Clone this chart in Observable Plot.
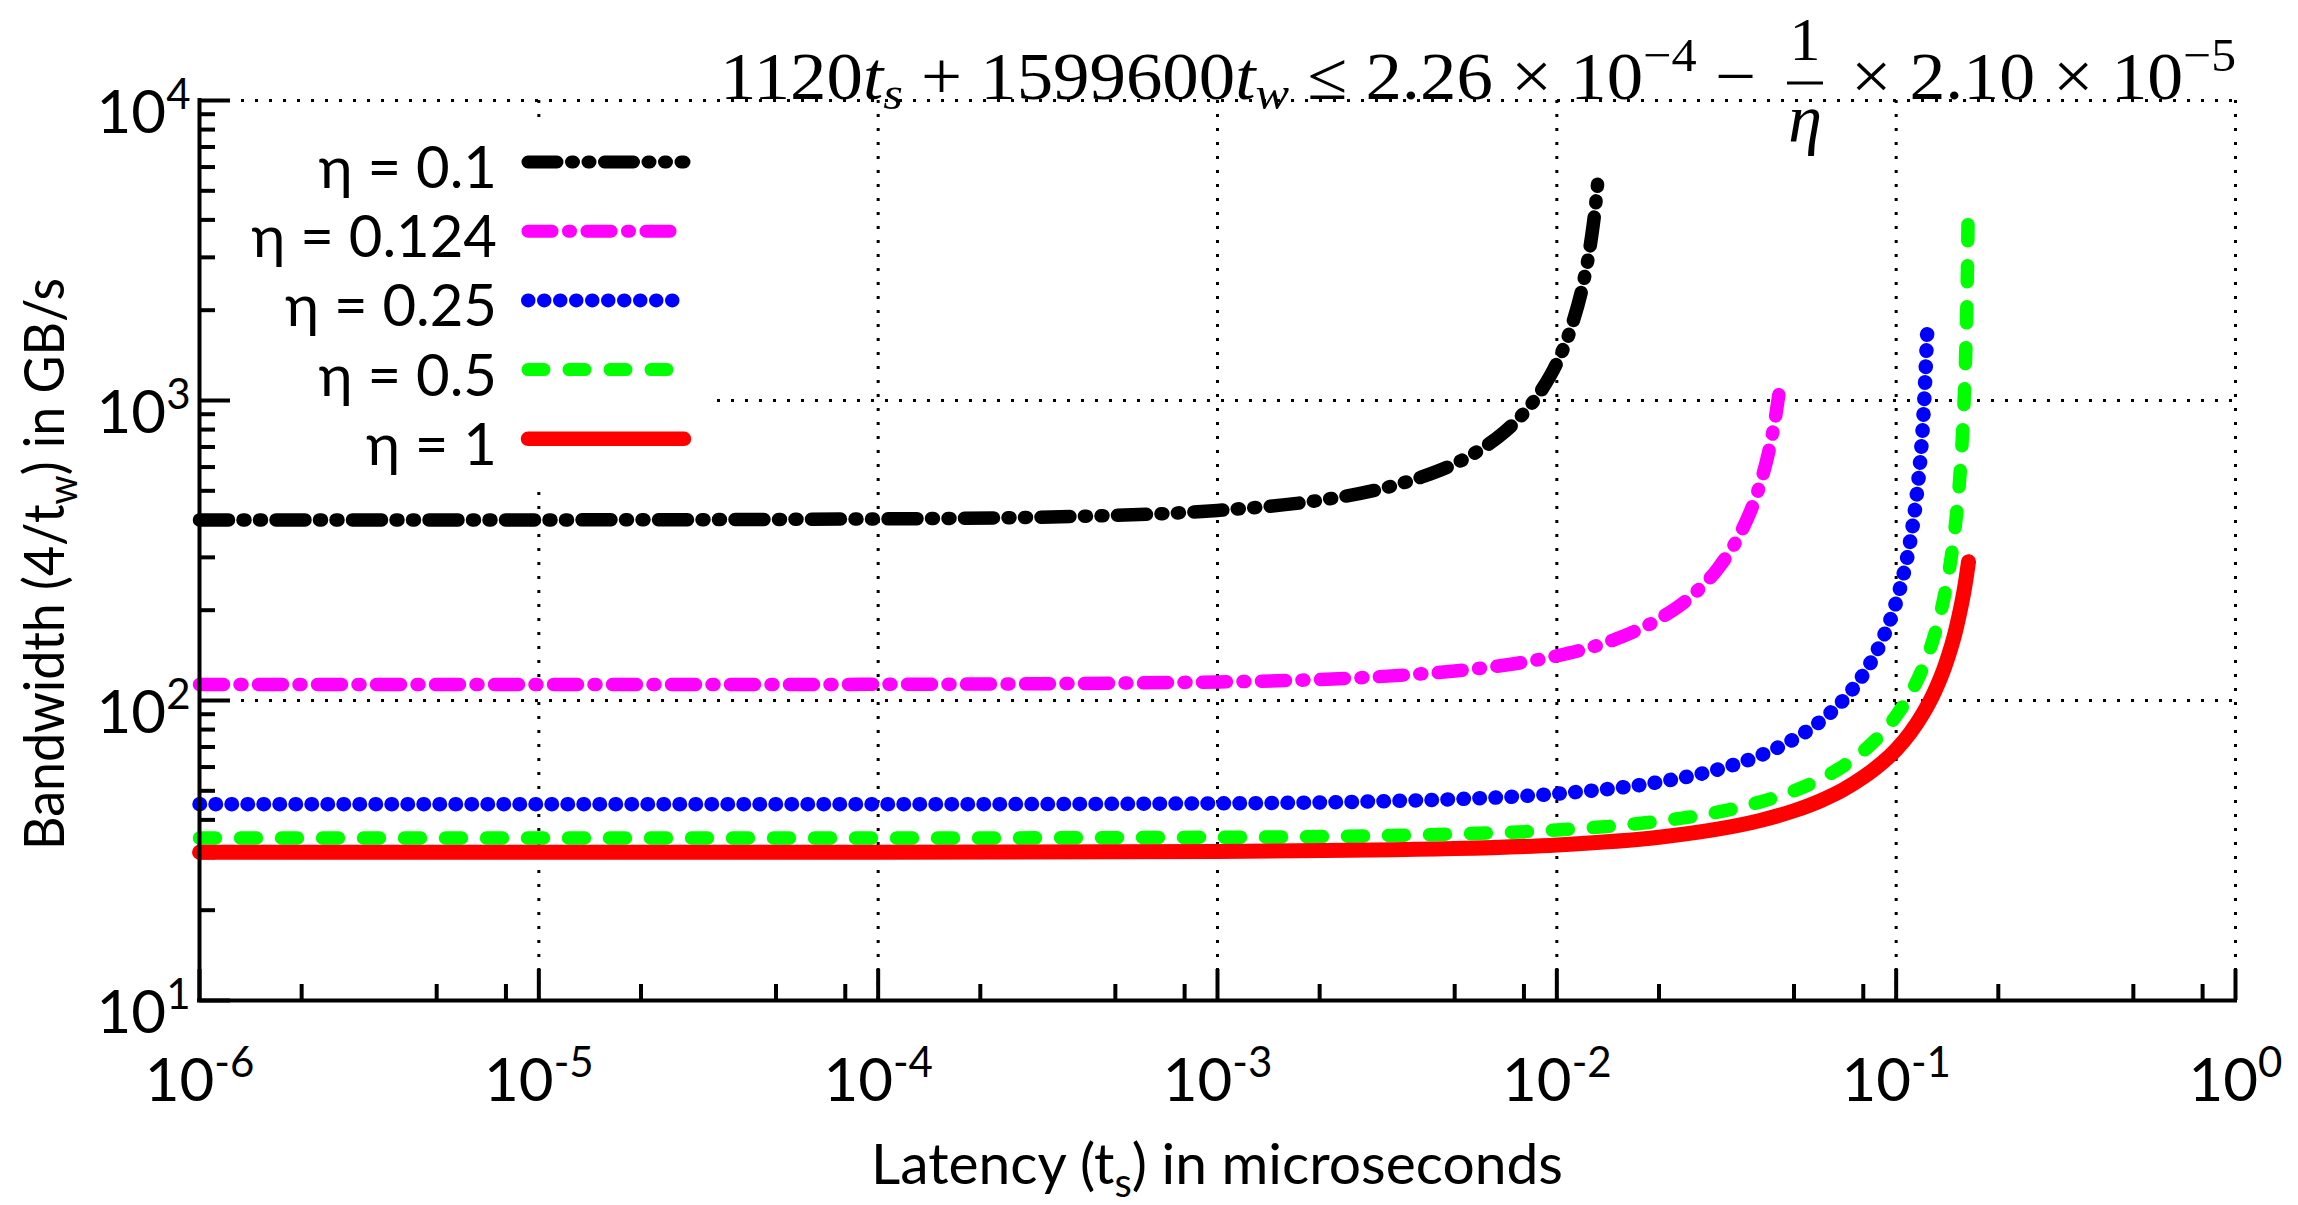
<!DOCTYPE html>
<html>
<head>
<meta charset="utf-8">
<script src="https://cdn.jsdelivr.net/npm/d3@7"></script>
<script src="https://cdn.jsdelivr.net/npm/@observablehq/plot@0.6"></script>
<style>
  html, body { margin: 0; padding: 0; background: #fff; }
  #chart { width: 2298px; height: 1205px; }
</style>
</head>
<body>
<div id="chart"></div>
<script>
// ---------------- data ----------------
const etaLabels = ["η = 0.1", "η = 0.124", "η = 0.25", "η = 0.5", "η = 1"];

// latency t_s (microseconds) and bandwidth 4/t_w (GB/s) for each eta
const ts_eta01 = [1e-6, 1e-5, 1e-4, 5e-4, 1e-3, 2e-3, 3e-3, 4e-3, 5e-3, 6e-3, 7e-3, 8e-3, 9e-3, 0.010, 0.011, 0.012, 0.0125, 0.0128, 0.0130, 0.0132];
const bw_eta01 = [400, 400, 403, 414, 430, 465, 506, 556, 615, 690, 784, 909, 1081, 1333, 1739, 2500, 3200, 3850, 4450, 5350];

const ts_eta0124 = [1e-6, 1e-5, 1e-4, 1e-3, 3e-3, 5e-3, 7.5e-3, 0.010, 0.015, 0.020, 0.025, 0.030, 0.035, 0.038, 0.040, 0.042, 0.044, 0.0451];
const bw_eta0124 = [113, 113, 113.2, 115.3, 120.1, 125.4, 132.6, 140.8, 160.6, 186.9, 223.4, 277.7, 366.8, 454, 540, 666, 869, 1045];

const ts_eta025 = [1e-6, 1e-5, 1e-4, 1e-3, 5e-3, 0.01, 0.02, 0.03, 0.04, 0.05, 0.06, 0.07, 0.08, 0.09, 0.10, 0.105, 0.11, 0.115, 0.118, 0.12, 0.1234];
const bw_eta025 = [45.1, 45.1, 45.1, 45.4, 46.9, 48.9, 53.5, 59.0, 65.8, 74.4, 85.5, 100.6, 122.1, 155.3, 213, 262, 340, 485, 650, 842, 1680];

const ts_eta05 = [1e-6, 1e-5, 1e-4, 1e-3, 5e-3, 0.01, 0.02, 0.03, 0.04, 0.05, 0.06, 0.07, 0.08, 0.09, 0.10, 0.11, 0.12, 0.13, 0.14, 0.145, 0.15, 0.155, 0.158, 0.16, 0.162, 0.1631];
const bw_eta05 = [34.8, 34.8, 34.8, 35.0, 35.9, 37.0, 39.6, 42.5, 46.0, 50.0, 54.8, 60.6, 67.8, 76.9, 88.9, 105.2, 129.0, 166.6, 235.3, 296, 400, 615, 908, 1332, 2500, 4600];

const ts_eta1 = [1e-6, 1e-5, 1e-4, 1e-3, 5e-3, 0.01, 0.02, 0.03, 0.04, 0.05, 0.06, 0.07, 0.08, 0.09, 0.10, 0.11, 0.12, 0.13, 0.14, 0.15, 0.16, 0.1634];
const bw_eta1 = [31.2, 31.2, 31.2, 31.4, 32.1, 33.0, 35.0, 37.3, 39.9, 42.9, 46.4, 50.5, 55.5, 61.4, 68.6, 78.0, 90.5, 107.5, 132.5, 172.5, 247, 290];

// axes
const xDecades = [1e-6, 1e-5, 1e-4, 1e-3, 1e-2, 1e-1, 1];
const xTickExponents = ["-6", "-5", "-4", "-3", "-2", "-1", "0"];
const yDecades = [10, 100, 1000, 10000];
const yTickExponents = ["1", "2", "3", "4"];
const xMinorMultipliers = [2, 5, 8];
const yMinorMultipliers = [2, 3, 4, 5, 6, 7, 8, 9];

const xTitleMain = "Latency (t", xTitleSub = "s", xTitleEnd = ") in microseconds";
const yTitleMain = "Bandwidth (4/t", yTitleSub = "w", yTitleEnd = ") in GB/s";

// ---------------- styles ----------------
const seriesColors = ["#000000", "#ff00ff", "#0000ff", "#00ff00", "#ff0000"];
const seriesWidths = [13.5, 13.5, 14.5, 13.5, 15];
const seriesDash = ["29,14.5,2,14.5,2,14.5", "24,16.5,2,16.5", "0.5,15.5", "16,25", null];
const FONT = "Lato, 'Open Sans', 'DejaVu Sans', sans-serif";
const MATH = "'Liberation Serif', 'DejaVu Serif', serif";

// ---------------- build tables ----------------
const tsList = [ts_eta01, ts_eta0124, ts_eta025, ts_eta05, ts_eta1];
const bwList = [bw_eta01, bw_eta0124, bw_eta025, bw_eta05, bw_eta1];
const series = etaLabels.map((label, i) => ({
  label,
  rows: tsList[i].map((t, j) => ({ts: t, bw: bwList[i][j]}))
}));

const xMinorTicks = xDecades.slice(0, -1).flatMap(d => xMinorMultipliers.map(m => d * m));
const yMinorTicks = yDecades.slice(0, -1).flatMap(d => yMinorMultipliers.map(m => d * m));

// layout
const W = 2298, H = 1205;
const mL = 199, mR = 63, mT = 100, mB = 205;
const innerW = W - mL - mR, innerH = H - mT - mB;
const majorLen = 31, minorLen = 16;

const gridStyle = {stroke: "#000", strokeOpacity: 1, strokeWidth: 3, strokeDasharray: "3,11"};
const tickStyle = {stroke: "#000", strokeWidth: 4};

const chart = Plot.plot({
  width: W, height: H,
  marginLeft: mL, marginRight: mR, marginTop: mT, marginBottom: mB,
  x: {type: "log", domain: [xDecades[0], xDecades[xDecades.length - 1]]},
  y: {type: "log", domain: [yDecades[0], yDecades[yDecades.length - 1]]},
  marks: [
    Plot.gridX(xDecades.slice(1), gridStyle),
    Plot.gridY(yDecades.slice(1), gridStyle),
    Plot.ruleX(xMinorTicks, {x: d => d, insetTop: innerH - minorLen, ...tickStyle}),
    Plot.ruleX(xDecades, {x: d => d, insetTop: innerH - majorLen, ...tickStyle}),
    Plot.ruleY(yMinorTicks, {y: d => d, insetRight: innerW - minorLen, ...tickStyle}),
    Plot.ruleY(yDecades, {y: d => d, insetRight: innerW - majorLen, ...tickStyle}),
    ...series.map((s, i) => Plot.line(s.rows, {
      x: "ts", y: "bw",
      stroke: seriesColors[i], strokeWidth: seriesWidths[i],
      strokeDasharray: seriesDash[i] || undefined,
      strokeLinecap: "round", strokeLinejoin: "round",
      curve: "monotone-x"
    })),
    Plot.ruleX([xDecades[0]], {stroke: "#000", strokeWidth: 4, strokeLinecap: "square"}),
    Plot.ruleY([yDecades[0]], {stroke: "#000", strokeWidth: 4, strokeLinecap: "square"}),
    Plot.axisX(xDecades, {
      tickSize: 0, tickPadding: 58, fontSize: 60, fontFamily: FONT, label: null,
      tickFormat: d => xTickExponents[xDecades.indexOf(d)]
    }),
    Plot.axisY(yDecades, {
      tickSize: 0, tickPadding: 9, fontSize: 60, fontFamily: FONT, label: null,
      tickFormat: d => yTickExponents[yDecades.indexOf(d)]
    })
  ]
});

document.getElementById("chart").append(chart);

// ---------------- post-processing: superscripts, titles, legend, equation ----------------
const svg = d3.select(chart);
svg.style("color", "#000");

function makeSup(textEl, baseShift) {
  const exp = textEl.textContent;
  const t = d3.select(textEl);
  t.text(null);
  t.append("tspan").attr("dy", baseShift).text("10");
  t.append("tspan").attr("dy", -24).attr("font-size", 42).text(exp);
}
svg.selectAll('[aria-label="x-axis tick label"] text').each(function() { makeSup(this, 0); });
svg.selectAll('[aria-label="y-axis tick label"] text').each(function() { makeSup(this, 13); });

// x title
const xt = svg.append("text")
  .attr("x", mL + innerW / 2).attr("y", 1184)
  .attr("text-anchor", "middle").attr("font-family", FONT).attr("font-size", 57)
  .attr("fill", "#000")
  .attr("textLength", 692).attr("lengthAdjust", "spacingAndGlyphs");
xt.append("tspan").text(xTitleMain);
xt.append("tspan").attr("font-size", 40).attr("dy", 13).text(xTitleSub);
xt.append("tspan").attr("dy", -13).text(xTitleEnd);

// y title
const yt = svg.append("text")
  .attr("transform", `translate(64,${mT + innerH / 2 + 14}) rotate(-90)`)
  .attr("text-anchor", "middle").attr("font-family", FONT).attr("font-size", 56)
  .attr("fill", "#000")
  .attr("textLength", 572).attr("lengthAdjust", "spacingAndGlyphs");
yt.append("tspan").text(yTitleMain);
yt.append("tspan").attr("font-size", 40).attr("dy", 13).text(yTitleSub);
yt.append("tspan").attr("dy", -13).text(yTitleEnd);

// legend
const lg = svg.append("g");
lg.append("rect").attr("x", 233).attr("y", 125).attr("width", 478).attr("height", 359).attr("fill", "#fff");
series.forEach((s, i) => {
  const yy = 162 + i * 69.2;
  lg.append("path")
    .attr("d", `M528,${yy}H684`)
    .attr("stroke", seriesColors[i]).attr("stroke-width", seriesWidths[i] - 0.5)
    .attr("stroke-dasharray", seriesDash[i]).attr("stroke-linecap", "round").attr("fill", "none");
  lg.append("text")
    .attr("x", 497).attr("y", yy + 26)
    .attr("text-anchor", "end").attr("font-family", FONT).attr("font-size", 58).attr("fill", "#000")
    .text(s.label);
});

// equation
const eq = svg.append("g").attr("font-family", MATH).attr("font-size", 68).attr("fill", "#000")
  .attr("text-anchor", "start");
const e1 = eq.append("text").attr("x", 720).attr("y", 99).attr("text-anchor", "start")
  .attr("textLength", 1036).attr("lengthAdjust", "spacingAndGlyphs");
e1.append("tspan").text("1120");
e1.append("tspan").attr("font-style", "italic").text("t");
e1.append("tspan").attr("font-style", "italic").attr("font-size", 47).attr("dy", 10).text("s");
e1.append("tspan").attr("dy", -10).text(" + 1599600");
e1.append("tspan").attr("font-style", "italic").text("t");
e1.append("tspan").attr("font-style", "italic").attr("font-size", 47).attr("dy", 10).text("w");
e1.append("tspan").attr("dy", -10).text(" ≤ 2.26 × 10");
e1.append("tspan").attr("font-size", 47).attr("dy", -28).text("−4");
e1.append("tspan").attr("dy", 28).text(" −");
eq.append("text").attr("x", 1805).attr("y", 60).attr("font-size", 62).attr("text-anchor", "middle").text("1");
eq.append("line").attr("x1", 1787).attr("x2", 1823).attr("y1", 83).attr("y2", 83)
  .attr("stroke", "#000").attr("stroke-width", 3);
eq.append("text").attr("x", 1805).attr("y", 142).attr("text-anchor", "middle")
  .attr("font-style", "italic").text("η");
const e2 = eq.append("text").attr("x", 1851).attr("y", 99).attr("text-anchor", "start")
  .attr("textLength", 385).attr("lengthAdjust", "spacingAndGlyphs");
e2.append("tspan").text("× 2.10 × 10");
e2.append("tspan").attr("font-size", 47).attr("dy", -28).text("−5");
</script>
</body>
</html>
